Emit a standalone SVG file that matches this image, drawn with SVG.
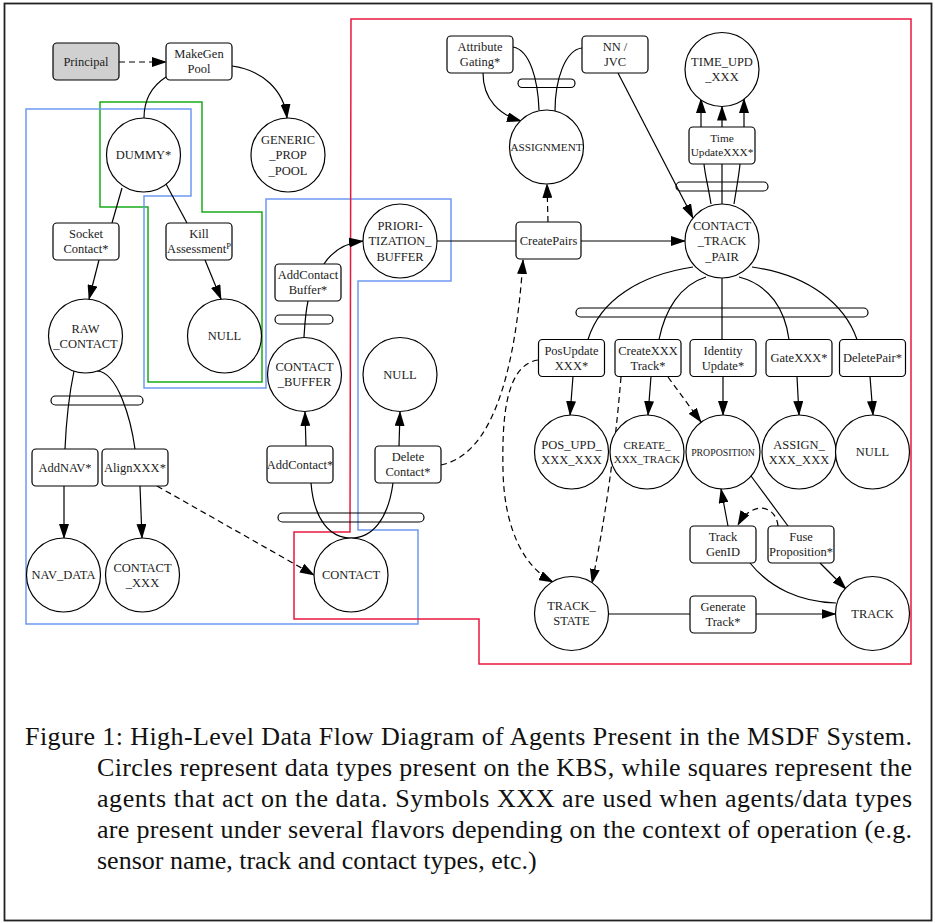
<svg xmlns="http://www.w3.org/2000/svg" width="935" height="923" viewBox="0 0 935 923">
<defs>
<style>
text{font-family:"Liberation Serif","Times New Roman",serif;font-size:12.5px;fill:#222;text-anchor:middle}
.box{fill:#fff;stroke:#000;stroke-width:1.2}
.gray{fill:#d0d0d0}
.c{fill:#fff;stroke:#000;stroke-width:1.2}
.bar{fill:none;stroke:#000;stroke-width:1.2}
.e{fill:none;stroke:#000;stroke-width:1.2}
.d{stroke-dasharray:6 4}
.a{marker-end:url(#ah)}
.cap{font-size:26px;text-anchor:start;fill:#111}
.reg{fill:none;stroke-width:1.5}
.s11{font-size:11px}
.s112{font-size:11.2px}
.s113{font-size:11.3px}
.s98{font-size:9.8px}
.sup{font-size:8.5px}
</style>
<marker id="ah" markerUnits="userSpaceOnUse" markerWidth="15" markerHeight="10" refX="14" refY="5" orient="auto"><path d="M0,0 L15,5 L0,10 z" fill="#000"/></marker>
</defs>
<rect x="4.5" y="3.5" width="927" height="917" fill="#fff" stroke="#222" stroke-width="1.8"/>
<g id="regions">
<polygon class="reg" stroke="#1aab1a" points="100,102 202,102 202,212 262,212 262,382 148,382 148,207 100,207"/>
<polygon class="reg" stroke="#6e9bf2" points="26,109 191,109 191,196 144,196 144,388 266,388 266,199 451,199 451,281 358,281 358,530 418,530 418,624 26,624"/>
<polygon class="reg" stroke="#e8193f" points="351,19 911,19 911,664 479,664 479,619 294,619 294,532 350,532"/>
</g>
<g id="bars">
<rect class="bar" x="51" y="396" width="92" height="9" rx="4.5"/>
<rect class="bar" x="275" y="315" width="58" height="9" rx="4.5"/>
<rect class="bar" x="278" y="513" width="146" height="9" rx="4.5"/>
<rect class="bar" x="518" y="79" width="57" height="8.5" rx="4.2"/>
<rect class="bar" x="676" y="182" width="92" height="9" rx="4.5"/>
<rect class="bar" x="576" y="308" width="292" height="9" rx="4.5"/>
</g>
<g id="connectors">
<path class="e d a" stroke-width="1.8" d="M119,62 L166,62"/>
<path class="e a" d="M232,66 C262,70 284,90 287,118"/>
<path class="e" d="M166,77 C152,86 144,100 144,118"/>
<path class="e" d="M122,188 L112,223"/>
<path class="e" d="M166,184 L187,223"/>
<path class="e a" d="M99,260 L89,299"/>
<path class="e a" d="M205,260 L221,299"/>
<path class="e" d="M74,371 C68,400 66,425 65,449"/>
<path class="e" d="M97,371 C118,372 131,420 135,449"/>
<path class="e a" d="M64,486 L64,538"/>
<path class="e a" d="M140,486 L142,538"/>
<path class="e d a" d="M157,486 L314,575"/>
<path class="e a" d="M324,264 C333,250 345,243 363,241"/>
<path class="e" d="M304,337 C305,320 306,310 308,301"/>
<path class="e a" d="M306,446 L305,412"/>
<path class="e a" d="M399,446 L400,412"/>
<path class="e" d="M311,483 C314,520 330,538 351,538"/>
<path class="e" d="M393,483 C388,520 372,538 351,538"/>
<path class="e d a" d="M441,465 C490,455 515,380 523,260"/>
<path class="e" d="M437,241 L516,241"/>
<path class="e a" d="M581,241 L685,241"/>
<path class="e d a" d="M548,222 L547,184"/>
<path class="e a" d="M483,73 C483,100 500,115 521,121"/>
<path class="e" d="M513,47 C530,50 538,80 539,110"/>
<path class="e" d="M582,48 C565,50 555,80 555,111"/>
<path class="e a" d="M618,73 L693,218"/>
<path class="e a" d="M701,127 L701,99"/>
<path class="e a" d="M722,127 L722,106.5"/>
<path class="e a" d="M744,127 L744,99"/>
<path class="e" d="M711,204 C708,185 705,175 704,164"/>
<path class="e" d="M722,204 L722,164"/>
<path class="e" d="M734,204 C737,185 739,175 740,164"/>
<path class="e" d="M693,267 C640,275 600,300 588,339.5"/>
<path class="e" d="M706,277 C680,285 665,310 659,339.5"/>
<path class="e" d="M722,278 L722,339.5"/>
<path class="e" d="M739,277 C770,285 785,310 789,339.5"/>
<path class="e" d="M752,267 C810,275 845,305 857,339.5"/>
<path class="e a" d="M573,376.5 L570,415"/>
<path class="e a" d="M651,376.5 L648,415"/>
<path class="e a" d="M723,376.5 L723,415"/>
<path class="e a" d="M797,376.5 L799,415"/>
<path class="e a" d="M870,376.5 L873,415"/>
<path class="e d a" d="M668,377 L701,422"/>
<path class="e d a" d="M621,377 C615,450 605,520 592,583"/>
<path class="e d a" d="M538,360 C505,365 502,420 503,470 C504,530 525,568 553,582"/>
<path class="e" d="M608,614 L690,614"/>
<path class="e a" d="M756,614 L835.5,614"/>
<path class="e a" d="M728,526 L721,489"/>
<path class="e d a" d="M778,526 C776,505 752,500 738,525"/>
<path class="e" d="M751,476 L788,526"/>
<path class="e a" d="M820,563 L846,589"/>
<path class="e" d="M750,563 C770,588 800,602 836,603"/>
</g>
<g id="principal"><rect class="box gray" x="53" y="43" width="66" height="37" rx="4"/><text x="86" y="65.8">Principal</text></g>
<g id="makegenpool"><rect class="box" x="166" y="43" width="66" height="37" rx="4"/><text x="199" y="58">MakeGen</text><text x="199" y="73.3">Pool</text></g>
<g id="socketcontact"><rect class="box" x="53" y="223" width="66" height="37" rx="4"/><text x="86" y="238">Socket</text><text x="86" y="253.3">Contact*</text></g>
<g id="killassessment"><rect class="box" x="166" y="223" width="66" height="37" rx="4"/><text x="199" y="238">Kill</text><text x="199" y="253.3">Assessment<tspan class="sup" dy="-4">P</tspan></text></g>
<g id="addcontactbuffer"><rect class="box" x="275" y="264" width="66" height="37" rx="4"/><text x="308" y="279">AddContact</text><text x="308" y="294.3">Buffer*</text></g>
<g id="addcontact"><rect class="box" x="267" y="446" width="66" height="37" rx="4"/><text x="300" y="468.8">AddContact*</text></g>
<g id="deletecontact"><rect class="box" x="375" y="446" width="66" height="37" rx="4"/><text x="408" y="461">Delete</text><text x="408" y="476.3">Contact*</text></g>
<g id="addnav"><rect class="box" x="32" y="449" width="66" height="37" rx="4"/><text x="65" y="471.8">AddNAV*</text></g>
<g id="alignxxx"><rect class="box" x="102" y="449" width="66" height="37" rx="4"/><text x="135" y="471.8">AlignXXX*</text></g>
<g id="attributegating"><rect class="box" x="447" y="36" width="66" height="37" rx="4"/><text x="480" y="51">Attribute</text><text x="480" y="66.3">Gating*</text></g>
<g id="nnjvc"><rect class="box" x="582" y="36" width="66" height="37" rx="4"/><text x="615" y="51">NN /</text><text x="615" y="66.3">JVC</text></g>
<g id="createpairs"><rect class="box" x="516" y="222" width="65" height="37" rx="4"/><text x="548.5" y="244.8">CreatePairs</text></g>
<g id="timeupdate"><rect class="box" x="689" y="127" width="66" height="37" rx="4"/><text x="722" y="141.5" class="s113">Time</text><text x="722" y="155.5" class="s113">UpdateXXX*</text></g>
<g id="posupdate"><rect class="box" x="538.5" y="339.5" width="66" height="37" rx="4"/><text x="571.5" y="354.5">PosUpdate</text><text x="571.5" y="369.8">XXX*</text></g>
<g id="createxxxtrack"><rect class="box" x="615" y="339.5" width="66" height="37" rx="4"/><text x="648" y="354.5">CreateXXX</text><text x="648" y="369.8">Track*</text></g>
<g id="identityupdate"><rect class="box" x="690" y="339.5" width="66" height="37" rx="4"/><text x="723" y="354.5">Identity</text><text x="723" y="369.8">Update*</text></g>
<g id="gatexxx"><rect class="box" x="766" y="339.5" width="66" height="37" rx="4"/><text x="799" y="362.3">GateXXX*</text></g>
<g id="deletepair"><rect class="box" x="839.5" y="339.5" width="66" height="37" rx="4"/><text x="872.5" y="362.3">DeletePair*</text></g>
<g id="trackgenid"><rect class="box" x="690" y="526" width="66" height="37" rx="4"/><text x="723" y="541">Track</text><text x="723" y="556.3">GenID</text></g>
<g id="fuseproposition"><rect class="box" x="768" y="526" width="66" height="37" rx="4"/><text x="801" y="541">Fuse</text><text x="801" y="556.3">Proposition*</text></g>
<g id="generatetrack"><rect class="box" x="690" y="596" width="66" height="37" rx="4"/><text x="723" y="611">Generate</text><text x="723" y="626.3">Track*</text></g>
<g id="dummy"><circle class="c" cx="143.5" cy="155" r="37"/><text x="143.5" y="159.3">DUMMY*</text></g>
<g id="genericproppool"><circle class="c" cx="288" cy="155" r="37"/><text x="288" y="143.9">GENERIC</text><text x="288" y="159.2">_PROP</text><text x="288" y="174.5">_POOL</text></g>
<g id="rawcontact"><circle class="c" cx="85.5" cy="336" r="37"/><text x="85.5" y="332.5">RAW</text><text x="85.5" y="347.8">_CONTACT</text></g>
<g id="null1"><circle class="c" cx="224.5" cy="336" r="37"/><text x="224.5" y="340.3">NULL</text></g>
<g id="prioritizationbuffer"><circle class="c" cx="400" cy="241" r="37"/><text x="400" y="229.9">PRIORI-</text><text x="400" y="245.2">TIZATION_</text><text x="400" y="260.5">BUFFER</text></g>
<g id="contactbuffer"><circle class="c" cx="304.5" cy="374.5" r="37"/><text x="304.5" y="371">CONTACT</text><text x="304.5" y="386.3">_BUFFER</text></g>
<g id="null2"><circle class="c" cx="400" cy="374.5" r="37"/><text x="400" y="378.8">NULL</text></g>
<g id="contact"><circle class="c" cx="351" cy="575" r="37"/><text x="351" y="579.3">CONTACT</text></g>
<g id="navdata"><circle class="c" cx="63.5" cy="575" r="37"/><text x="63.5" y="579.3">NAV_DATA</text></g>
<g id="contactxxx"><circle class="c" cx="142.5" cy="575" r="37"/><text x="142.5" y="571.5">CONTACT</text><text x="142.5" y="586.8">_XXX</text></g>
<g id="assignment"><circle class="c" cx="546.5" cy="147" r="37"/><text x="546.5" y="151" class="s112">ASSIGNMENT</text></g>
<g id="timeupdxxx"><circle class="c" cx="722" cy="69.5" r="37"/><text x="722" y="66">TIME_UPD</text><text x="722" y="81.3">_XXX</text></g>
<g id="contacttrackpair"><circle class="c" cx="722" cy="241" r="37"/><text x="722" y="229.9">CONTACT</text><text x="722" y="245.2">_TRACK</text><text x="722" y="260.5">_PAIR</text></g>
<g id="posupdxxxxxx"><circle class="c" cx="571.5" cy="452" r="37"/><text x="571.5" y="448.5">POS_UPD_</text><text x="571.5" y="463.8">XXX_XXX</text></g>
<g id="createxxxtrackdata"><circle class="c" cx="647" cy="452" r="37"/><text x="647" y="448.8" class="s11">CREATE_</text><text x="647" y="462.8" class="s11">XXX_TRACK</text></g>
<g id="proposition"><circle class="c" cx="723" cy="452" r="37"/><text x="723" y="455.5" class="s98">PROPOSITION</text></g>
<g id="assignxxxxxx"><circle class="c" cx="799" cy="452" r="37"/><text x="799" y="448.5">ASSIGN_</text><text x="799" y="463.8">XXX_XXX</text></g>
<g id="null3"><circle class="c" cx="872.5" cy="452" r="37"/><text x="872.5" y="456.3">NULL</text></g>
<g id="trackstate"><circle class="c" cx="571.5" cy="613.5" r="37"/><text x="571.5" y="610">TRACK_</text><text x="571.5" y="625.3">STATE</text></g>
<g id="track"><circle class="c gray" cx="872.5" cy="613.5" r="37"/><text x="872.5" y="617.8">TRACK</text></g>
<g id="caption">
<text class="cap" x="25" y="745" textLength="887" lengthAdjust="spacing">Figure 1: High-Level Data Flow Diagram of Agents Present in the MSDF System.</text>
<text class="cap" x="97" y="776" textLength="815" lengthAdjust="spacing">Circles represent data types present on the KBS, while squares represent the</text>
<text class="cap" x="97" y="807" textLength="815" lengthAdjust="spacing">agents that act on the data. Symbols XXX are used when agents/data types</text>
<text class="cap" x="97" y="838" textLength="815" lengthAdjust="spacing">are present under several flavors depending on the context of operation (e.g.</text>
<text class="cap" x="97" y="869">sensor name, track and contact types, etc.)</text>
</g>
</svg>
